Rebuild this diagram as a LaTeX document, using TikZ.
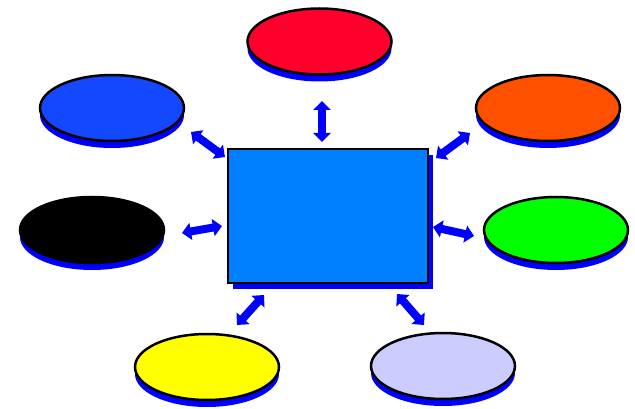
\documentclass[tikz,border=0pt]{standalone}
\usetikzlibrary{shapes.geometric,shadows,arrows.meta}

\definecolor{shadowblue}{RGB}{0,0,255}
\definecolor{boxblue}{RGB}{0,128,255}
\definecolor{ovred}{RGB}{255,0,45}
\definecolor{ovblue}{RGB}{20,72,255}
\definecolor{ovorange}{RGB}{255,80,0}
\definecolor{ovgreen}{RGB}{0,255,0}
\definecolor{ovyellow}{RGB}{255,255,0}
\definecolor{ovlilac}{RGB}{204,204,255}

\tikzset{
  oval/.style={ellipse, draw=black, line width=2.5pt, minimum width=144pt, minimum height=66pt,
    inner sep=0pt, drop shadow={shadow xshift=0pt, shadow yshift=-7pt, fill=shadowblue, opacity=1}},
  centerbox/.style={rectangle, draw=black, line width=2.5pt, fill=boxblue, minimum width=200pt,
    minimum height=134pt, inner sep=0pt,
    drop shadow={shadow xshift=5pt, shadow yshift=-6pt, fill=shadowblue, opacity=1}},
  biarrow/.style={draw=shadowblue, line width=8pt,
    {Triangle[length=9pt,width=17pt]}-{Triangle[length=9pt,width=17pt]}}
}

\begin{document}
\begin{tikzpicture}[x=1pt,y=-1pt]
    \useasboundingbox (0,0) rectangle (635,409);

    % 中央の四角
    \node[centerbox] (hub) at (328,216) {};

    % 周りの楕円
    \node[oval, fill=ovred]    (red)    at (319.5,41.5) {};
    \node[oval, fill=ovblue]   (blue)   at (112,108) {};
    \node[oval, fill=ovorange] (orange) at (548,108) {};
    \node[oval, fill=black]    (black)  at (92,230) {};
    \node[oval, fill=ovgreen]  (green)  at (556,230) {};
    \node[oval, fill=ovyellow] (yellow) at (207,367) {};
    \node[oval, fill=ovlilac]  (lilac)  at (443,366) {};

    % 矢印の端点
    \coordinate (t1) at (322,101);  \coordinate (t2) at (322,142);
    \coordinate (ul1) at (191,132); \coordinate (ul2) at (225,157);
    \coordinate (ur1) at (436,158); \coordinate (ur2) at (470,133);
    \coordinate (l1) at (182,233);  \coordinate (l2) at (222,226);
    \coordinate (r1) at (433,227);  \coordinate (r2) at (474,236);
    \coordinate (dl1) at (264,295); \coordinate (dl2) at (237,325);
    \coordinate (dr1) at (397,294); \coordinate (dr2) at (424,325);

    % 両方向の矢印
    \draw[biarrow] (t1) -- (t2);
    \draw[biarrow] (ul1) -- (ul2);
    \draw[biarrow] (ur1) -- (ur2);
    \draw[biarrow] (l1) -- (l2);
    \draw[biarrow] (r1) -- (r2);
    \draw[biarrow] (dl1) -- (dl2);
    \draw[biarrow] (dr1) -- (dr2);
\end{tikzpicture}
\end{document}
